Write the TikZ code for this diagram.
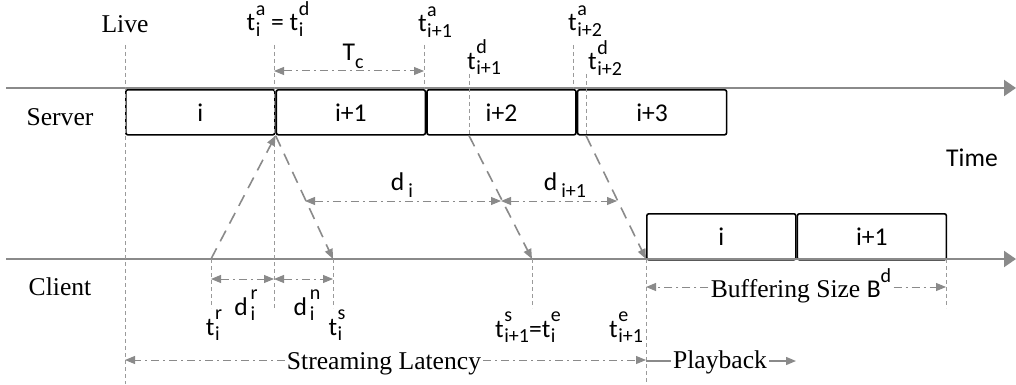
\documentclass[tikz,border=0pt]{standalone}
\usepackage{fontspec}
\setmainfont{Liberation Serif}
\setsansfont{Carlito}
\usetikzlibrary{arrows.meta}
\usetikzlibrary{positioning}
\usepackage{xcolor}
\definecolor{axisgrey}{HTML}{8A8A8A}
\definecolor{guidegrey}{HTML}{9A9A9A}
\newcommand{\scrfont}{\fontsize{10}{10}\selectfont}
\newlength{\supw}
\newlength{\subw}
\newcommand{\supsub}[2]{%
  \settowidth{\supw}{\scrfont #1}\settowidth{\subw}{\scrfont #2}%
  \ifdim\subw>\supw\setlength{\supw}{\subw}\fi
  \makebox[\supw][l]{\rlap{\raisebox{0.6em}{\scrfont #1}}%
    \raisebox{-0.2em}{\scrfont #2}}}
\newcommand{\lowsub}[1]{\raisebox{-0.3em}{\scrfont #1}}
\newcommand{\tstamp}[2]{t\kern0.3pt\supsub{#1}{#2}}
\newcommand{\dlab}[2]{d\kern1.5pt\supsub{#1}{#2}}

\begin{document}
\begin{tikzpicture}[
        x=0.5pt, y=-0.5pt,
        serif/.style={font=\fontsize{12.8}{15}\selectfont, inner sep=1pt},
        lab/.style={font=\sffamily\fontsize{12.8}{15}\selectfont,
          inner sep=0pt, anchor=base},
        chunk/.style={rectangle, draw=black, line width=0.8pt,
          minimum width=74.5pt, minimum height=22.5pt,
          rounded corners=1pt, anchor=north west,
          font=\sffamily\fontsize{12.8}{15}\selectfont},
        axis/.style={draw=axisgrey, line width=1pt,
          -{Triangle[length=6pt,width=8pt]}},
        guide/.style={draw=guidegrey, line width=0.5pt,
          dash pattern=on 2pt off 1.5pt},
        flow/.style={draw=axisgrey, line width=0.8pt,
          dash pattern=on 6pt off 4pt, -{Triangle[length=5pt,width=4pt]}},
        span/.style={draw=axisgrey, line width=0.5pt,
          dash pattern=on 4pt off 2pt on 1pt off 2pt},
        tip/.style={-{Triangle[length=5pt,width=4pt]}},
        tips/.style={{Triangle[length=5pt,width=4pt]}-{Triangle[length=5pt,width=4pt]}},
      ]
        \useasboundingbox (0,0) rectangle (1016,385);

        % segments on the server and the client
        \node[chunk] (s1) at (125,89) {i};
        \node[chunk, right=0pt of s1] (s2) {i+1};
        \node[chunk, right=0pt of s2] (s3) {i+2};
        \node[chunk, right=0pt of s3] (s4) {i+3};
        \node[chunk, minimum height=23pt] (c1) at (646,213) {i};
        \node[chunk, minimum height=23pt, right=0pt of c1] (c2) {i+1};

        % time axes
        \coordinate (srv0) at (6,88);
        \coordinate (srv1) at (1016,88);
        \coordinate (cli0) at (6,259);
        \coordinate (cli1) at (1016,259);
        \draw[axis] (srv0) -- (srv1);
        \draw[axis] (cli0) -- (cli1);

        % time marks
        \coordinate (live) at (125,45);
        \coordinate (liveb) at (125,384);
        \coordinate (tai) at (274,45);
        \coordinate (taib) at (274,308);
        \coordinate (tan) at (424,45);
        \coordinate (tdn) at (469,74);
        \coordinate (tann) at (573,45);
        \coordinate (tdnn) at (586,74);
        \coordinate (tri) at (211,259);
        \coordinate (trib) at (211,308);
        \coordinate (tsi) at (333,259);
        \coordinate (tsib) at (333,308);
        \coordinate (tsn) at (532,259);
        \coordinate (tsnb) at (532,308);
        \coordinate (ten) at (646,259);
        \coordinate (tenb) at (646,384);
        \coordinate (bufe) at (946,259);
        \coordinate (bufeb) at (946,308);

        \draw[guide] (live) -- (liveb);
        \draw[guide] (tai) -- (taib);
        \draw[guide] (tan) -- (tan |- s2.north);
        \draw[guide] (tdn) -- (tdn |- s3.south);
        \draw[guide] (tann) -- (tann |- s3.north);
        \draw[guide] (tdnn) -- (tdnn |- s4.south);
        \draw[guide] (tri) -- (trib);
        \draw[guide] (tsi) -- (tsib);
        \draw[guide] (tsn) -- (tsnb);
        \draw[guide] (ten) -- (tenb);
        \draw[guide] (bufe) -- (bufeb);

        % requests and downloads
        \draw[flow] (tri) -- (s1.south east);
        \draw[flow] (s1.south east) -- (tsi);
        \draw[flow] (tdn |- s3.south) -- (tsn);
        \draw[flow] (tdnn |- s4.south) -- (ten);

        % intervals
        \coordinate (tcl) at (274,71);
        \coordinate (tcr) at (424,71);
        \draw[span, tips] (tcl) -- (tcr);
        \coordinate (dil) at (305,201);
        \coordinate (dim) at (501,201);
        \coordinate (dir) at (617,201);
        \draw[span, tips] (dil) -- (dim);
        \draw[span, tips] (dim) -- (dir);
        \coordinate (drl) at (211,279);
        \coordinate (drm) at (274,279);
        \coordinate (drr) at (333,279);
        \draw[span, tips] (drl) -- (drm);
        \draw[span, tips] (drm) -- (drr);

        % labels (placed at their baselines)
        \node[serif] (livelab) at (125,24) {Live};
        \node[serif] (srvlab) at (60,117) {Server};
        \node[serif] (clilab) at (60,287) {Client};
        \node[lab] (timelab) at (972,166) {Time};
        \node[lab] (taid) at (278,31) {\tstamp{a}{i} = \tstamp{d}{i}};
        \node[lab] (tanlab) at (435,32) {\tstamp{a}{i+1}};
        \node[lab] (tdnlab) at (484,69) {\tstamp{d}{i+1}};
        \node[lab] (tannlab) at (585,31) {\tstamp{a}{i+2}};
        \node[lab] (tdnnlab) at (605,70) {\tstamp{d}{i+2}};
        \node[lab] (tclab) at (353,61) {T\lowsub{c}};
        \node[lab] (dilab) at (402,190) {d\kern2pt\lowsub{i}};
        \node[lab] (dnlab) at (565,190) {d\kern2pt\lowsub{i+1}};
        \node[lab] (drlab) at (246,315) {\dlab{r}{i}};
        \node[lab] (dnnlab) at (307,315) {\dlab{n}{i}};
        \node[lab] (trlab) at (214,335) {\tstamp{r}{i}};
        \node[lab] (tslab) at (337,335) {\tstamp{s}{i}};
        \node[lab] (tsnlab) at (528,337) {\tstamp{s}{i+1}=\tstamp{e}{i}};
        \node[lab] (tenlab) at (626,337) {\tstamp{e}{i+1}};

        % buffer, latency and playback
        \node[serif, anchor=base] (buf) at (801,297)
          {Buffering Size \textsf{B}\raisebox{0.55em}{\sffamily\scrfont d}};
        \coordinate (bufl) at (646,287);
        \coordinate (bufr) at (946,287);
        \draw[span, tip] (bufl -| buf.west) -- (bufl);
        \draw[span, tip] (bufr -| buf.east) -- (bufr);

        \node[serif, anchor=base] (lat) at (384,369) {Streaming Latency};
        \coordinate (latl) at (125,360);
        \coordinate (latr) at (646,360);
        \draw[span, tip] (latl -| lat.west) -- (latl);
        \draw[span, tip] (latr -| lat.east) -- (latr);

        \node[serif, anchor=base] (play) at (720,368) {Playback};
        \coordinate (playl) at (646,361);
        \coordinate (playr) at (796,361);
        \draw[draw=axisgrey, line width=0.7pt] (playl) -- (playl -| play.west);
        \draw[draw=axisgrey, line width=0.7pt, tip] (playr -| play.east) -- (playr);
      \end{tikzpicture}
\end{document}
